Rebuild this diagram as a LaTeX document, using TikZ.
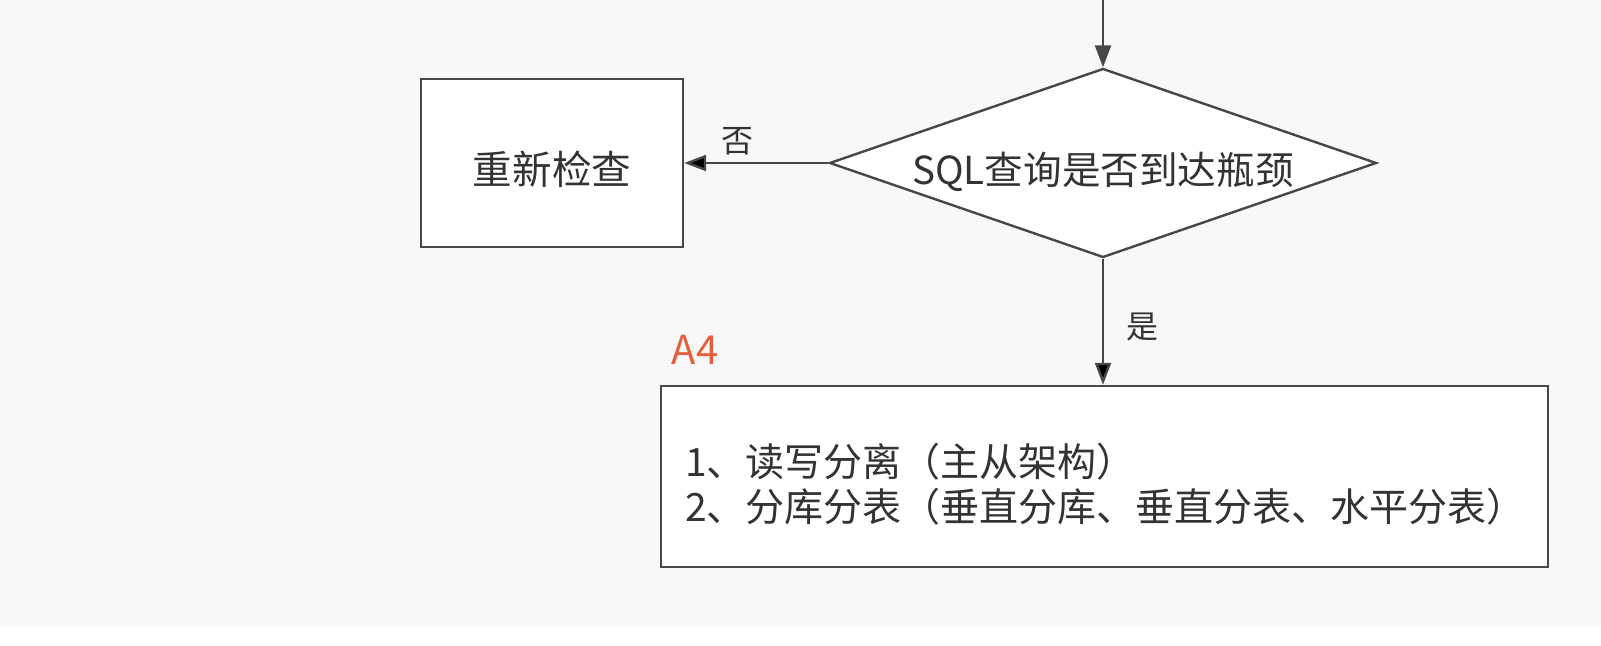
\documentclass[tikz,border=0pt]{standalone}
\usepackage{fontspec}
\newfontfamily\cjk{Noto Sans CJK SC}
\usetikzlibrary{shapes.geometric,arrows.meta}
\definecolor{linegray}{HTML}{474747}
\definecolor{bggray}{HTML}{F8F8F8}
\definecolor{tagred}{HTML}{E5603A}
\begin{document}
\begin{tikzpicture}[x=0.5pt,y=-0.5pt,font=\cjk]
        \tikzstyle{process}=[rectangle,draw=linegray,line width=1.2pt,fill=white,text=black!80,text height=24pt,text depth=2.4pt,font=\cjk\fontsize{19.8}{23}\selectfont]
        \tikzstyle{decision}=[diamond,aspect=2.9,inner sep=0pt,draw=linegray,line width=1.2pt,fill=white,text=black!80,text height=24pt,text depth=2.4pt,minimum width=273.5pt,minimum height=94.5pt,font=\cjk\fontsize{19.3}{23}\selectfont]
        \tikzstyle{edge}=[draw=linegray,line width=1.2pt,-{Triangle[length=11pt,width=8pt]}]
        \tikzstyle{answer}=[font=\cjk\fontsize{16}{19}\selectfont,text=black!80]
        \tikzstyle{tag}=[font=\cjk\fontsize{20}{24}\selectfont,text=tagred]
        \tikzstyle{listing}=[font=\cjk\fontsize{19.5}{22.5}\selectfont,text=black!80,align=left,inner sep=0pt]
       \useasboundingbox (0,0) rectangle (1601,646);
       \fill[white] (0,0) rectangle (1601,646);
       \fill[bggray] (0,0) rectangle (1601,626);
       \begin{scope}
         \coordinate (entry) at (1103,0);
         \node [decision] (bottleneck) at (1103,163) {SQL查询是否到达瓶颈};
         \node [process,minimum width=131pt,minimum height=84pt] (recheck) at (552,163) {重新检查};
         \node [process,minimum width=443.5pt,minimum height=90.5pt] (split) at (1104.5,476.5) {};
         \node [listing,anchor=west] (plan) at ([xshift=12.5pt,yshift=-4pt]split.west) {1、读写分离（主从架构）\\2、分库分表（垂直分库、垂直分表、水平分表）};
         \node [tag] (a4) at (695,350) {A4};

         \path[edge] (entry) -- (bottleneck);
         \path[edge] (bottleneck) edge [above] node[answer,pos=0.63] (no) {否} (recheck);
         \path[edge] (bottleneck) edge node[answer,right=8pt,pos=0.54] (yes) {是} (bottleneck |- split.north);
       \end{scope}
\end{tikzpicture}
\end{document}
